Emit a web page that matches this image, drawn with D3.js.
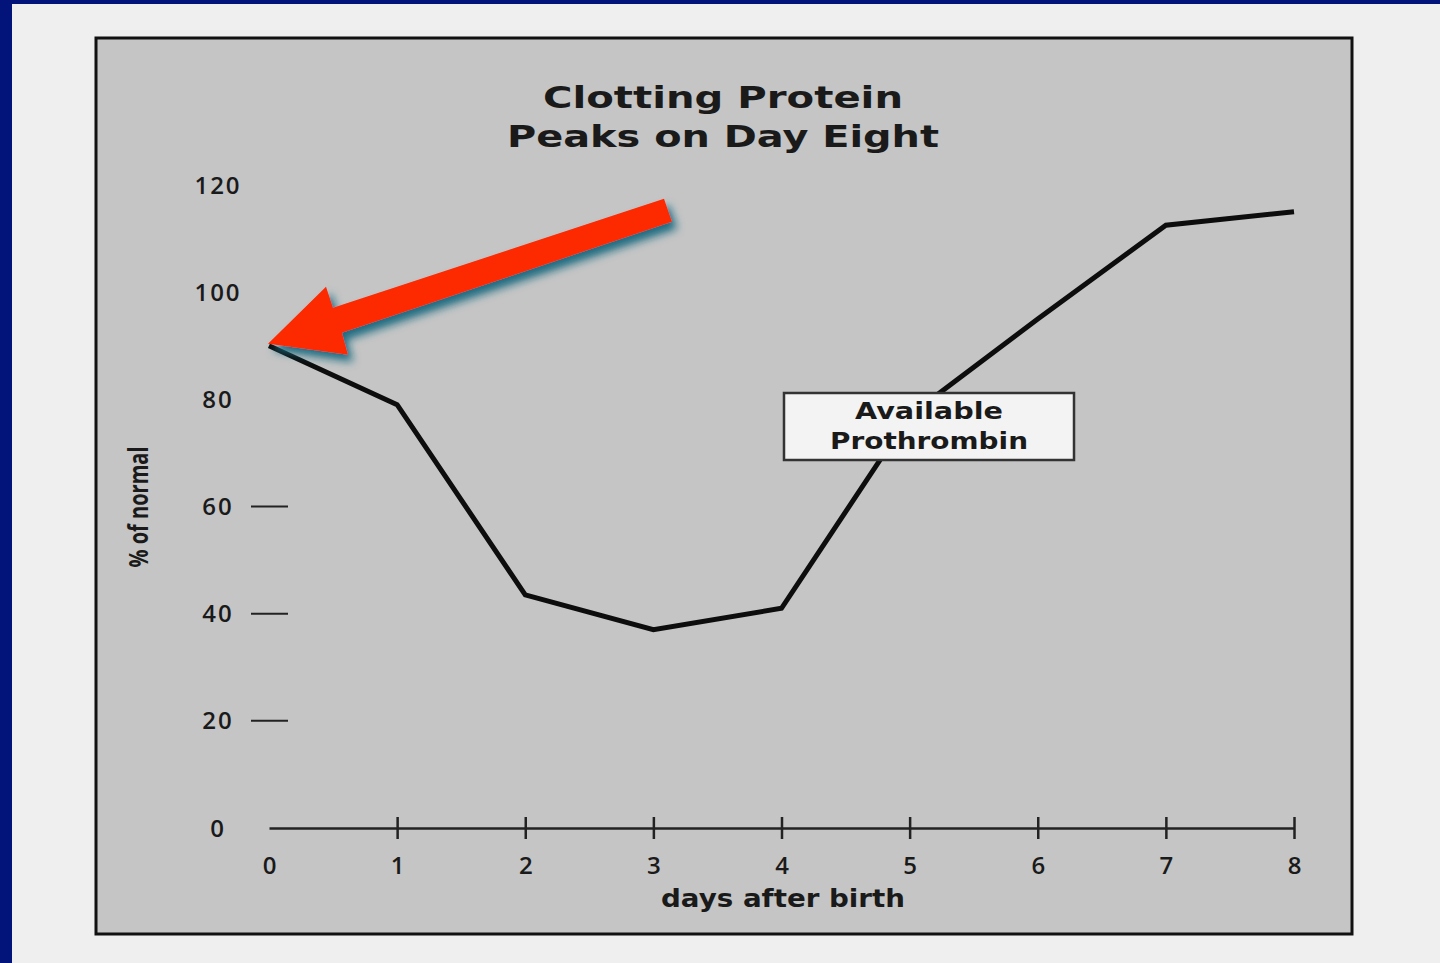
<!DOCTYPE html>
<html>
<head>
<meta charset="utf-8">
<script src="https://cdn.jsdelivr.net/npm/d3@7.9.0/dist/d3.min.js"></script>
<style>
  html, body { margin: 0; padding: 0; background: #efefef; }
  svg { display: block; }
  text { font-family: 'Open Sans', 'DejaVu Sans', sans-serif; fill: #1a1a1a; }
  .heavy { font-family: 'DejaVu Sans', sans-serif; font-weight: 700; }
</style>
</head>
<body>
<svg id="chart" width="1440" height="963"></svg>
<script>
const days = [0, 1, 2, 3, 4, 5, 6, 7, 8];
const prothrombin = [90, 79, 43.5, 37, 41, 77, 95, 112.5, 115];
const yTicks = [0, 20, 40, 60, 80, 100, 120];
const dashTicks = [20, 40, 60];
const titleLines = ['Clotting Protein', 'Peaks on Day Eight'];
const labelLines = ['Available', 'Prothrombin'];

const svg = d3.select('#chart');

const x = d3.scaleLinear().domain([0, 8]).range([269, 1294]);
const y = d3.scaleLinear().domain([0, 120]).range([828, 185]);

// page frame
svg.append('rect').attr('width', 1440).attr('height', 963).attr('fill', '#efefef');
svg.append('rect').attr('width', 1440).attr('height', 4).attr('fill', '#02137a');
svg.append('rect').attr('width', 12).attr('height', 963).attr('fill', '#02137a');

const defs = svg.append('defs');
const shadow = defs.append('filter').attr('id', 'shadow')
  .attr('x', '-20%').attr('y', '-20%').attr('width', '140%').attr('height', '160%');
shadow.append('feGaussianBlur').attr('in', 'SourceAlpha').attr('stdDeviation', 4).attr('result', 'blur');
shadow.append('feOffset').attr('in', 'blur').attr('dx', 5).attr('dy', 7).attr('result', 'off');
shadow.append('feFlood').attr('flood-color', '#16677d').attr('flood-opacity', 0.95);
shadow.append('feComposite').attr('in2', 'off').attr('operator', 'in');
const merge = shadow.append('feMerge');
merge.append('feMergeNode');
merge.append('feMergeNode').attr('in', 'SourceGraphic');

// panel
svg.append('rect')
  .attr('x', 96).attr('y', 38).attr('width', 1256).attr('height', 896)
  .attr('fill', '#c5c5c5').attr('stroke', '#111').attr('stroke-width', 3);

// title
svg.append('g').selectAll('text')
  .data(titleLines)
  .join('text')
  .attr('class', 'heavy')
  .attr('x', 723)
  .attr('y', (d, i) => 108 + i * 39)
  .attr('text-anchor', 'middle')
  .attr('font-size', 31)
  .attr('textLength', (d, i) => i === 0 ? 360 : 432)
  .attr('lengthAdjust', 'spacingAndGlyphs')
  .text(d => d);

// y labels
svg.append('g').selectAll('text')
  .data(yTicks)
  .join('text')
  .attr('x', 218)
  .attr('y', d => y(d))
  .attr('dy', '0.36em')
  .attr('text-anchor', 'middle')
  .attr('font-size', 24)
  .attr('font-weight', 600)
  .attr('letter-spacing', 2)
  .text(d => d);

svg.append('g').selectAll('line')
  .data(dashTicks)
  .join('line')
  .attr('x1', 251).attr('x2', 288)
  .attr('y1', d => y(d)).attr('y2', d => y(d))
  .attr('stroke', '#222').attr('stroke-width', 2);

svg.append('text')
  .attr('transform', 'translate(148,507) rotate(-90)')
  .attr('text-anchor', 'middle')
  .attr('font-family', "'Liberation Sans Narrow', 'DejaVu Sans Condensed', sans-serif")
  .attr('font-size', 26)
  .attr('font-weight', 700)
  .attr('textLength', 121)
  .attr('lengthAdjust', 'spacingAndGlyphs')
  .text('% of normal');

// x axis
const xAxis = d3.axisBottom(x)
  .tickValues(days)
  .tickSize(0)
  .tickPadding(29)
  .tickFormat(d3.format('d'));

const gx = svg.append('g').attr('transform', `translate(0,${y(0)})`).call(xAxis);
gx.select('.domain').attr('stroke', '#222').attr('stroke-width', 2.5);
gx.selectAll('.tick text')
  .attr('font-size', 24)
  .attr('font-weight', 600)
  .attr('font-family', "'Open Sans', sans-serif")
  .attr('fill', '#1a1a1a');
gx.selectAll('.tick')
  .filter(d => d > 0)
  .append('line')
  .attr('y1', -11).attr('y2', 11)
  .attr('stroke', '#222').attr('stroke-width', 2.5);

svg.append('text')
  .attr('class', 'heavy')
  .attr('x', 783).attr('y', 907)
  .attr('text-anchor', 'middle')
  .attr('font-size', 24)
  .attr('textLength', 244)
  .attr('lengthAdjust', 'spacingAndGlyphs')
  .text('days after birth');

// data line
const line = d3.line()
  .x((d, i) => x(days[i]))
  .y(d => y(d));

svg.append('path')
  .datum(prothrombin)
  .attr('d', line)
  .attr('fill', 'none')
  .attr('stroke', '#0d0d0d')
  .attr('stroke-width', 5)
  .attr('stroke-linejoin', 'miter');

// label box
svg.append('rect')
  .attr('x', 784).attr('y', 393).attr('width', 290).attr('height', 67)
  .attr('fill', '#f3f3f3').attr('stroke', '#333').attr('stroke-width', 2.5);

svg.append('g').selectAll('text')
  .data(labelLines)
  .join('text')
  .attr('class', 'heavy')
  .attr('x', 929)
  .attr('y', (d, i) => 419 + i * 30)
  .attr('text-anchor', 'middle')
  .attr('font-size', 23)
  .attr('textLength', (d, i) => i === 0 ? 148 : 198)
  .attr('lengthAdjust', 'spacingAndGlyphs')
  .text(d => d);

// red arrow pointing at day 0
const tipX = x(days[0]) - 1;
const tipY = y(prothrombin[0]) - 2;
const arrowPts = [
  [0, 0], [58, -57], [65, -36], [396, -145],
  [404, -122], [74, -11], [80, 11]
];
svg.append('path')
  .attr('d', d3.line()(arrowPts.map(p => [tipX + p[0], tipY + p[1]])) + 'Z')
  .attr('fill', '#fd2a00')
  .attr('filter', 'url(#shadow)');
</script>
</body>
</html>
